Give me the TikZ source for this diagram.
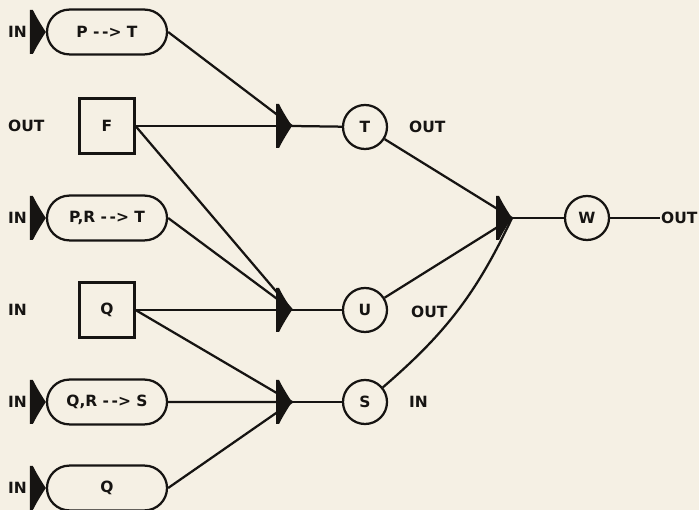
\documentclass[tikz,border=0pt]{standalone}
\usepackage{fontspec}
\setmainfont{DejaVu Sans}
\usetikzlibrary{shapes.misc}

\definecolor{paper}{RGB}{245,240,228}
\definecolor{ink}{RGB}{22,20,18}

\begin{document}
\begin{tikzpicture}[x=0.025cm, y=-0.025cm, line width=1.6pt, draw=ink,
    every node/.style={font=\bfseries\fontsize{11}{13}\selectfont, text=ink},
    pill/.style={draw, rounded rectangle, minimum width=3cm, minimum height=1.12cm, inner sep=0pt},
    box/.style={draw, rectangle, minimum size=1.37cm, inner sep=0pt},
    place/.style={draw, circle, minimum size=1.1cm, inner sep=0pt},
    tag/.style={anchor=west, inner sep=0pt},
    joinwedge/.pic={\fill[ink] (0,0) .. controls (-4,-6) and (-9,-14) .. (-13,-22) -- (-16,-22) -- (-16,22) -- (-13,22) .. controls (-9,14) and (-4,6) .. (0,0) -- cycle;}]

    % Paper and frame
    \fill[paper] (0,0) rectangle (699,510);
    \useasboundingbox (0,0) rectangle (699,510);

    % Left column of rules and sets
    \node[pill] (pa) at (107,32) {P -\,->\ T};
    \node[box]  (f)  at (107,126) {F};
    \node[pill] (pb) at (107,218) {P,R -\,->\ T};
    \node[box]  (q)  at (107,310) {Q};
    \node[pill] (pc) at (107,402) {Q,R -\,->\ S};
    \node[pill] (pd) at (107,488) {Q};

    % Left labels
    \foreach \y/\t [count=\i] in {32/IN, 126/OUT, 218/IN, 310/IN, 402/IN, 488/IN}
      \node[tag] (lab\i) at (7,\y) {\t};

    % Junctions
    \coordinate (jt) at (292,126);
    \coordinate (ju) at (292,310);
    \coordinate (js) at (292,402);
    \coordinate (jw) at (512,218);

    % Middle places
    \node[place] (t) at (365,127) {T};
    \node[place] (u) at (365,310) {U};
    \node[place] (s) at (365,402) {S};
    \node[place] (w) at (587,218) {W};

    % Right labels
    \node[tag] (ltt) at (408,127) {OUT};
    \node[tag] (ltu) at (410,312) {OUT};
    \node[tag] (lts) at (408,402) {IN};
    \node[tag] (lout) at (660,218) {OUT};

    % Connections
    \draw (pa.east) -- (jt);
    \draw (f.east) -- (jt);
    \draw (f.east) -- (ju);
    \draw (pb.east) -- (ju);
    \draw (q.east) -- (ju);
    \draw (q.east) -- (js);
    \draw (pc) -- (js);
    \draw (pd.east) -- (js);
    \draw (jt) -- (t);
    \draw (ju) -- (u);
    \draw (js) -- (s);
    \draw (t) -- (jw);
    \draw (u) -- (jw);
    \draw (s) to[bend right=12] (jw);
    \draw (jw) -- (w);
    \draw (w) -- (lout.west);

    % Wedges
    \foreach \n in {pa,pb,pc,pd}
      \pic at (\n.west) {joinwedge};
    \foreach \n in {jt,ju,js,jw}
      \pic at (\n) {joinwedge};

\end{tikzpicture}
\end{document}
